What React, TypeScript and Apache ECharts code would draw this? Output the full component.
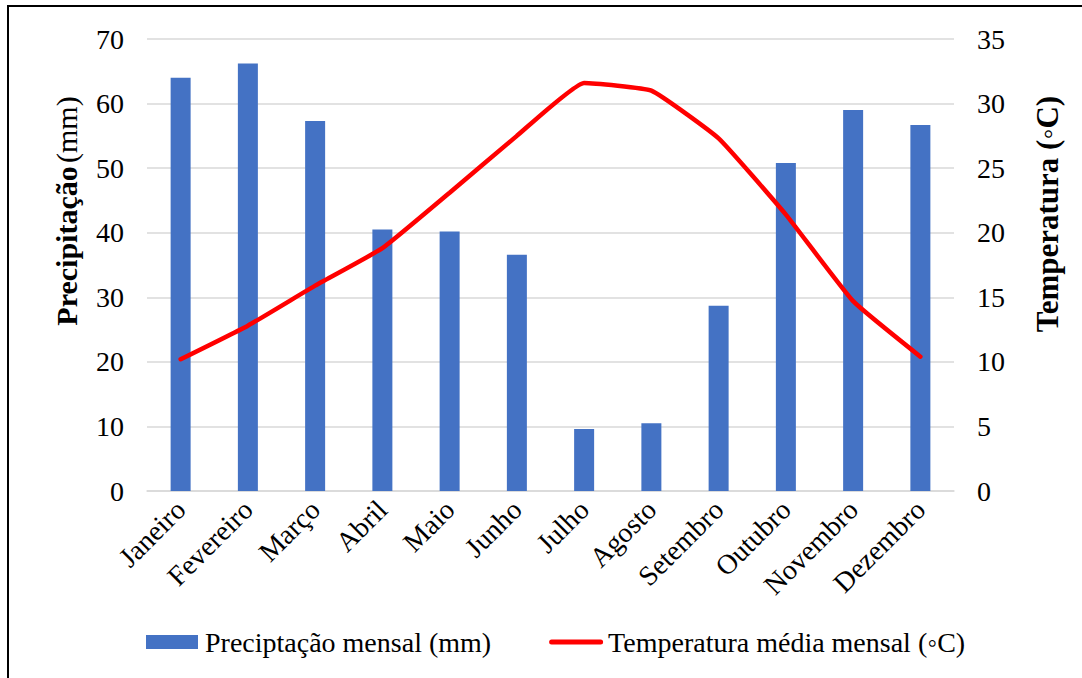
import React, { useEffect, useRef } from "react";
import * as echarts from "echarts";

const months = ["Janeiro", "Fevereiro", "Março", "Abril", "Maio", "Junho", "Julho", "Agosto", "Setembro", "Outubro", "Novembro", "Dezembro"];
const precipitation = [64.0, 66.2, 57.3, 40.5, 40.2, 36.6, 9.6, 10.5, 28.7, 50.8, 59.0, 56.7];
const temperature = [10.2, 12.8, 15.9, 18.8, 23.1, 27.5, 31.6, 31.0, 27.3, 21.4, 14.7, 10.4];

const FONT = "Liberation Serif";
const FS = 28;

export default function App() {
  const ref = useRef<HTMLDivElement>(null);
  useEffect(() => {
    if (!ref.current) return;
    const chart = echarts.init(ref.current, null, { renderer: "svg" });
    chart.setOption({
      animation: false,
      textStyle: { fontFamily: FONT },
      grid: { left: 147, right: 128, top: 39, bottom: 187 },
      legend: {
        top: 628,
        left: 146,
        padding: 0,
        itemWidth: 54,
        itemHeight: 14,
        itemGap: 58,
        textStyle: { fontFamily: FONT, fontSize: FS, color: "#000" },
        data: [
          { name: "Preciptação mensal (mm)", icon: "path://M0,0 L52,0 L52,14 L0,14 Z M54,0" },
          { name: "Temperatura média mensal (◦C)", icon: "path://M0,0 M54,14 M2.5,4.5 L51.5,4.5 A2.5,2.5 0 0 1 51.5,9.5 L2.5,9.5 A2.5,2.5 0 0 1 2.5,4.5 Z" },
        ],
      },
      graphic: [
        {
          type: "text",
          x: 66,
          y: 211,
          rotation: Math.PI / 2,
          style: {
            text: "{b|Precipitação} {n|(mm)}",
            align: "center",
            verticalAlign: "middle",
            rich: {
              b: { fontFamily: FONT, fontSize: 30, fontWeight: "bold", fill: "#000" },
              n: { fontFamily: FONT, fontSize: 30, fill: "#000" },
            },
          },
        },
        {
          type: "text",
          x: 1047,
          y: 214,
          rotation: Math.PI / 2,
          style: {
            text: "Temperatura (◦C)",
            align: "center",
            verticalAlign: "middle",
            fontFamily: FONT,
            fontSize: 31,
            fontWeight: "bold",
            fill: "#000",
          },
        },
      ],
      xAxis: {
        type: "category",
        data: months,
        axisLine: { lineStyle: { color: "#d9d9d9", width: 1.5 } },
        axisTick: { show: false },
        axisLabel: { rotate: 45, fontFamily: FONT, fontSize: FS, color: "#000", margin: 14, interval: 0 },
      },
      yAxis: [
        {
          type: "value",
          min: 0,
          max: 70,
          interval: 10,
          axisLabel: { fontFamily: FONT, fontSize: FS, color: "#000", margin: 23 },
          axisLine: { show: false },
          axisTick: { show: false },
          splitLine: { lineStyle: { color: "#d9d9d9", width: 1.5 } },
        },
        {
          type: "value",
          min: 0,
          max: 35,
          interval: 5,
          axisLabel: { fontFamily: FONT, fontSize: FS, color: "#000", margin: 23 },
          axisLine: { show: false },
          axisTick: { show: false },
          splitLine: { show: false },
        },
      ],
      series: [
        {
          name: "Preciptação mensal (mm)",
          type: "bar",
          data: precipitation,
          barWidth: 20,
          itemStyle: { color: "#4472C4" },
        },
        {
          name: "Temperatura média mensal (◦C)",
          type: "line",
          yAxisIndex: 1,
          data: temperature,
          smooth: 0.12,
          symbol: "none",
          lineStyle: { color: "#FF0000", width: 4.5, cap: "round" },
          itemStyle: { color: "#FF0000" },
        },
      ],
    });
    return () => chart.dispose();
  }, []);

  return (
    <div style={{ position: "fixed", left: 0, top: 0, width: 1082, height: 678, background: "#fff", overflow: "hidden" }}>
      <div
        style={{
          position: "absolute",
          left: 7,
          top: 5,
          width: 1200,
          height: 800,
          borderTop: "2.5px solid #000",
          borderLeft: "2.5px solid #000",
          boxSizing: "border-box",
        }}
      />
      <div ref={ref} style={{ position: "absolute", left: 0, top: 0, width: 1082, height: 678 }} />
    </div>
  );
}
